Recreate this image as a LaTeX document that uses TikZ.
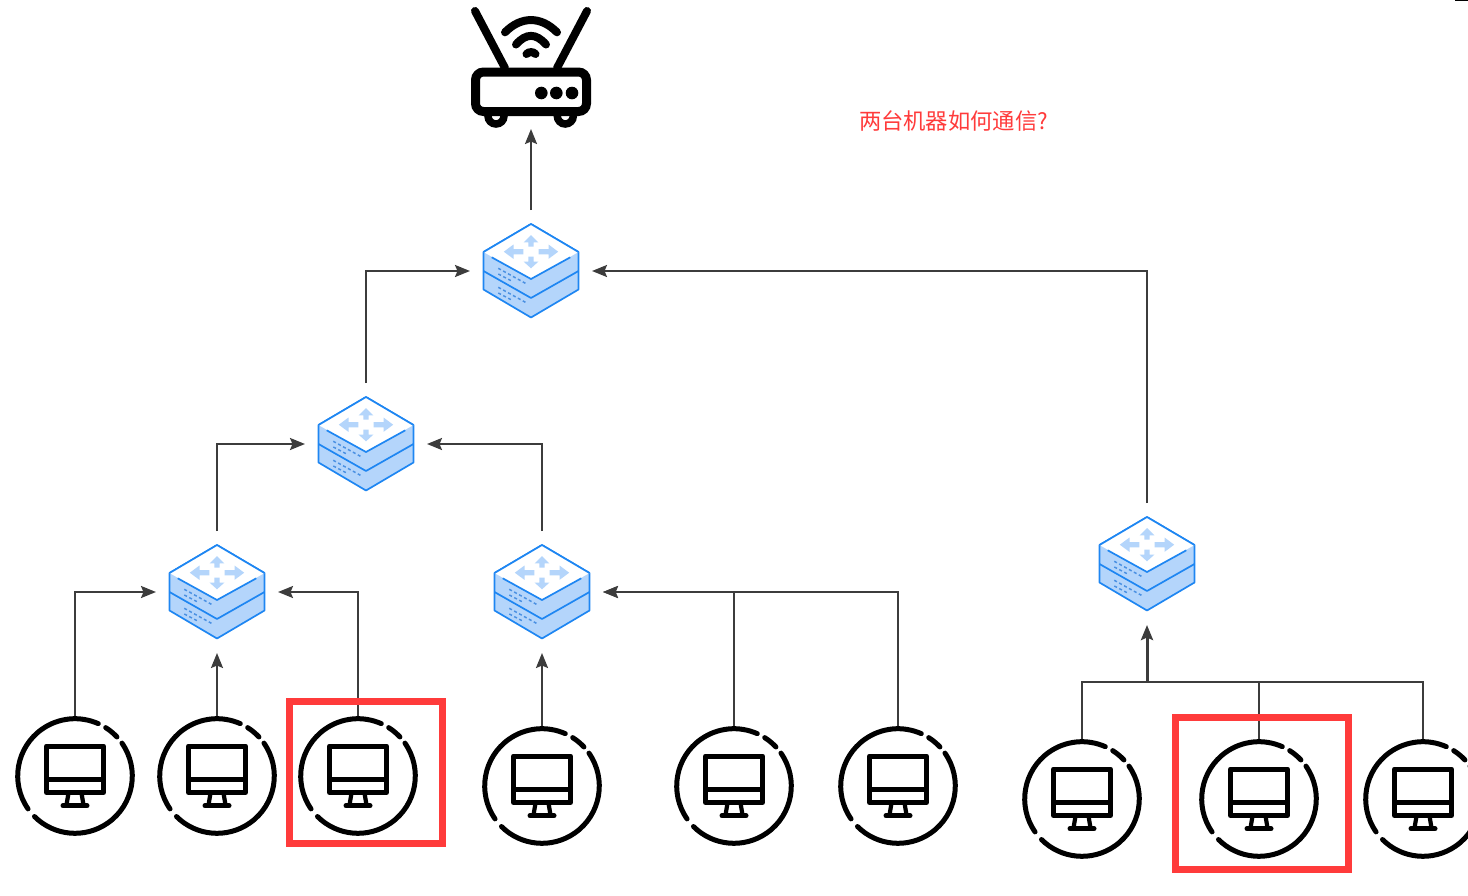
\documentclass[tikz,border=0pt]{standalone}
\usepackage{xcolor}
\usepackage{fontspec}
\usetikzlibrary{positioning,arrows.meta}
\newfontfamily\cjkfont{Noto Sans CJK SC}
\definecolor{netBlue}{HTML}{1E86F2}
\definecolor{netBlueL}{HTML}{B4D5FB}
\definecolor{netBlueD}{HTML}{4A90E2}
\definecolor{netGray}{HTML}{3C3C3C}
\definecolor{netRed}{HTML}{FF3B3B}
\tikzset{
  net-switch/.style={rectangle, minimum size=122pt, inner sep=0pt, outer sep=0pt},
  net-router/.style={net-switch},
  net-pc/.style={circle, minimum size=118pt, inner sep=0pt, outer sep=0pt},
  net-flow/.style={-{Stealth[length=15pt,width=12pt,inset=2.5pt]}, line width=2.2pt, draw=netGray},
  net-wire/.style={line width=2.2pt, draw=netGray},
  net-mark/.style={rectangle, draw=netRed, line width=7pt, inner sep=0pt, outer sep=0pt},
  net-note/.style={font=\cjkfont\fontsize{22.3pt}{26pt}\selectfont, text=netRed, inner sep=0pt},
  net-pc-icon/.pic={
    \begin{scope}[line width=5pt, line cap=round]
      \draw (215:57.3pt) arc[start angle=215, end angle=66, radius=57.3pt];
      \draw (57.6:57.3pt) arc[start angle=57.6, end angle=43, radius=57.3pt];
      \draw (35:57.3pt) arc[start angle=35, end angle=-135, radius=57.3pt];
    \end{scope}
    \draw[line width=5pt, line join=round] (-28.5,30) rectangle (28.5,-16.5);
    \draw[line width=5pt] (-28.5,-3.3) -- (28.5,-3.3);
    \draw[line width=4.2pt, line join=round] (-6.5,-17) -- (-8.5,-29) (6.5,-17) -- (8.5,-29);
    \draw[line width=5pt, line cap=round] (-12,-29.7) -- (12,-29.7);
  },
  net-switch-icon/.pic={
    \begin{scope}[draw=netBlue, line width=1.7pt, line join=round]
      \filldraw[fill=netBlueL] (-47.5,19) -- (-47.5,-18.5) -- (0,-46.5) -- (47.5,-18.5)
        -- (47.5,19) -- (0,47) -- cycle;
      \fill[white] (-47.5,19) -- (0,47) -- (47.5,19) -- (0,-8) -- cycle;
      \draw (-47.5,19) -- (0,47) -- (47.5,19);
      \draw (-39.3,13.7) -- (0,-8) -- (39.3,13.7);
      \draw (-47.5,0) -- (0,-27) -- (47.5,0);
    \end{scope}
    % arrows on the top face
    \foreach \s in {1,-1} {
      \fill[netBlueL, xscale=\s] (7.7,21.9) -- (17.5,21.9) -- (17.5,26.5) -- (27.2,19.3)
        -- (17.5,12.1) -- (17.5,16.7) -- (7.7,16.7) -- cycle;
    }
    \fill[netBlueL] (-2.6,24.3) -- (-2.6,28.7) -- (-7.3,28.7) -- (0,36) -- (7.3,28.7)
      -- (2.6,28.7) -- (2.6,24.3) -- cycle;
    \fill[netBlueL] (-2.6,14.3) -- (-2.6,9.3) -- (-7.3,9.3) -- (0,2.7) -- (7.3,9.3)
      -- (2.6,9.3) -- (2.6,14.3) -- cycle;
    % vents
    \foreach \d in {0,19} {
      \draw[netBlueD, line width=1.5pt, dash pattern=on 3pt off 2.6pt]
        (-32.7,2.7-\d) -- (-4.3,-13-\d) (-32.7,-3-\d) -- (-19.3,-10-\d);
    }
  },
  net-router-icon/.pic={
    \draw[line width=8pt, line cap=round] (-56,57) -- (-26,0) (56,57) -- (26,0);
    \foreach \x in {-35,34.3} \draw[line width=7.5pt, fill=white] (\x,-48) circle[radius=8pt];
    \draw[line width=9pt, fill=white, rounded corners=8pt] (-55.5,-4) rectangle (55.5,-43.5);
    \foreach \x in {10.3,25.3,41} \fill (\x,-25) circle[radius=6.3pt];
    \begin{scope}[line width=8pt, line cap=round]
      \draw (-26,35.7) .. controls (-10,52) and (10,52) .. (26,35.7);
      \draw (-15,23.5) .. controls (-5,35) and (5,35) .. (15,23.5);
      \draw (-4.5,14) .. controls (-2,16.5) and (2,16.5) .. (4.5,14);
    \end{scope}
  }
}
\begin{document}
\begin{tikzpicture}[x=1pt, y=1pt]
\useasboundingbox (0,0) rectangle (1468,-895);
\clip (0,0) rectangle (1468,-895);
% --- Switches ---
\node[net-router] (router) at (531,-68) {};
\node[net-switch, below=81pt of router] (sw1) {};
\node[net-switch, below left=51pt and 43pt of sw1] (sw2) {};
\node[net-switch, below left=26pt and 27pt of sw2] (sw3) {};
\node[net-switch, below right=26pt and 54pt of sw2] (sw4) {};
\node[net-switch, below right=171pt and 494pt of sw1] (sw5) {};
\coordinate[below=57pt of sw5] (hub);

% --- Machines ---
\node[net-pc, below=64pt of sw3] (pc2) {};
\node[net-pc, left=24pt of pc2] (pc1) {};
\node[net-pc, right=23pt of pc2] (pc3) {};
\node[net-pc, below=74pt of sw4] (pc4) {};
\node[net-pc, right=74pt of pc4] (pc5) {};
\node[net-pc, right=46pt of pc5] (pc6) {};
\node[net-pc, below=58pt of hub, xshift=-65pt] (pc7) {};
\node[net-pc, right=59pt of pc7] (pc8) {};
\node[net-pc, right=46pt of pc8] (pc9) {};

% --- Flux ---
\draw[net-flow] (sw1) -- (router);
\draw[net-flow] (sw2.north) |- (sw1.west);
\draw[net-flow] (sw5.north) |- (sw1.east);
\draw[net-flow] (sw3.north) |- (sw2.west);
\draw[net-flow] (sw4.north) |- (sw2.east);
\draw[net-flow] (pc1.north) |- (sw3.west);
\draw[net-flow] (pc2) -- (sw3);
\draw[net-flow] (pc3.north) |- (sw3.east);
\draw[net-flow] (pc4) -- (sw4);
\draw[net-flow] (pc5.north) |- (sw4.east);
\draw[net-flow] (pc6.north) |- (sw4.east);
\draw[net-wire] (pc7.north) |- (hub);
\draw[net-wire] (pc8.north) |- (hub);
\draw[net-wire] (pc9.north) |- (hub);
\draw[net-flow, line width=3pt] (hub) -- (sw5);

% --- Icons ---
\pic at (router) {net-router-icon};
\foreach \n in {sw1,sw2,sw3,sw4,sw5} \pic at (\n) {net-switch-icon};
\foreach \n in {pc1,pc2,pc3,pc4,pc5,pc6,pc7,pc8,pc9} \pic at (\n) {net-pc-icon};

% --- Marks ---
\node[net-mark, minimum width=153pt, minimum height=141.5pt, xshift=8pt, yshift=3.75pt]
  (mark1) at (pc3) {};
\node[net-mark, minimum width=173pt, minimum height=152pt, xshift=3pt, yshift=5.5pt]
  (mark2) at (pc8) {};
\node[net-note] (note) at (953.5,-121) {两台机器如何通信?};
\fill (1455,0) rectangle (1468,-1.2);
\end{tikzpicture}
\end{document}
